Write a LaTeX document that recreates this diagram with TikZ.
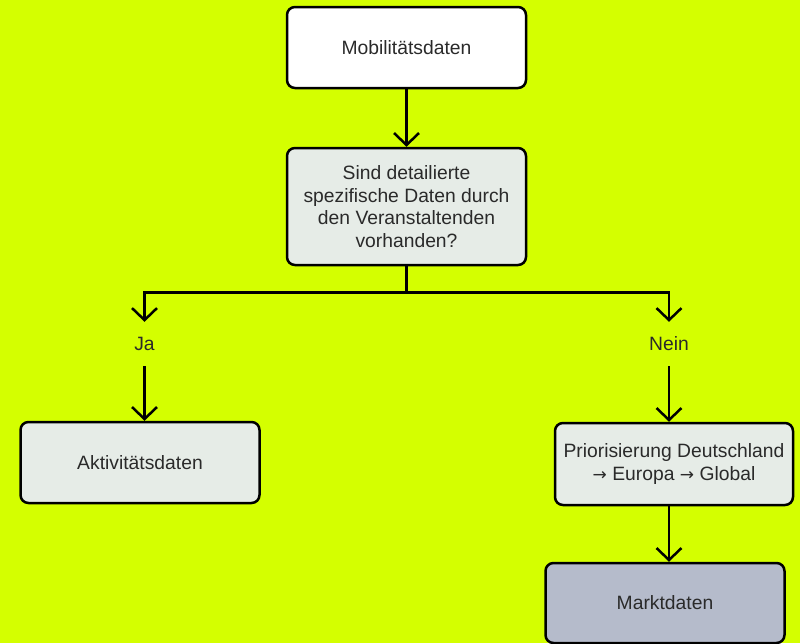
\documentclass[tikz,border=0pt]{standalone}
\usepackage{fontspec}
\setmainfont{Liberation Sans}
\newfontfamily\arrowfont{DejaVu Sans}
\usepackage{tikz}
\usetikzlibrary{
  arrows.meta,
  calc,
  positioning,
}
\definecolor{signal}{HTML}{D4FF00}
\definecolor{paleboxfill}{HTML}{E6ECE7}
\definecolor{slateboxfill}{HTML}{B5BBCB}
\definecolor{inktext}{HTML}{2A2A2A}
\newcommand{\towards}{{\arrowfont\fontsize{17}{22.5}\selectfont →}}
\tikzstyle{flowbox} = [
  draw=black,
  line width=2.5pt,
  rounded corners=8pt,
  minimum width=239pt,
  minimum height=81pt,
  align=center,
  text=inktext,
  font=\fontsize{19.3}{22.5}\selectfont,
]
\tikzstyle{answer} = [
  inner sep=0pt,
  minimum height=44pt,
  text=inktext,
  font=\fontsize{19.3}{22.5}\selectfont,
]
\tikzstyle{arrow} = [
  -{Straight Barb[length=12pt,width=25pt,line width=2.5pt]},
  line width=2.5pt,
  black,
]

\begin{document}
\begin{tikzpicture}[x=1pt,y=1pt]

        \fill [signal] (0,0) rectangle (800,-643);
        \useasboundingbox (0,0) rectangle (800,-643);

        \node [flowbox, fill=white] (mobil) at (406.5,-47.5) {Mobilitätsdaten};

        \node [flowbox, fill=paleboxfill, minimum height=117pt] (frage) at (406.5,-206.5)
              {Sind detailierte\\spezifische Daten durch\\den Veranstaltenden\\vorhanden?};

        \node [answer] (ja) at (144.5,-344) {Ja};
        \node [answer] (nein) at (669,-344) {Nein};

        \node [flowbox, fill=paleboxfill] (aktiv) at (140,-462.5) {Aktivitätsdaten};

        \node [flowbox, fill=paleboxfill, minimum width=238pt, minimum height=82pt] (prio) at (674,-464)
              {Priorisierung Deutschland\\\towards{} Europa \towards{} Global};

        \node [flowbox, fill=slateboxfill, minimum height=80pt] (markt) at (665,-603) {Marktdaten};

        \coordinate (split) at (406.5,-292.5);

        \draw [arrow] (mobil) -- (frage);
        \draw [line width=2.5pt] (frage) -- (split);
        \draw [arrow] (split) -| (ja);
        \draw [arrow] (split) -| (nein);
        \draw [arrow] (ja) -- (ja |- aktiv.north);
        \draw [arrow] (nein) -- (nein |- prio.north);
        \draw [arrow] (prio.south -| nein) -- (nein |- markt.north);
      \end{tikzpicture}
\end{document}
